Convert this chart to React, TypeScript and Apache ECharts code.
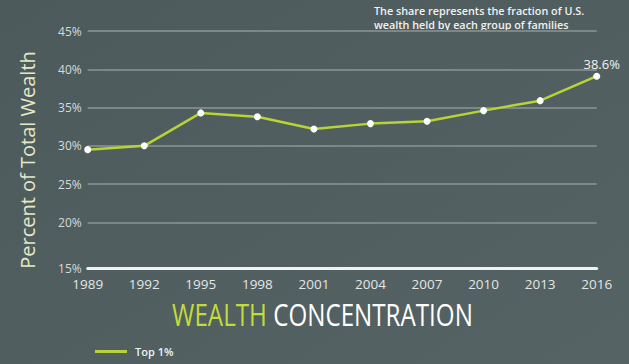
import React, { useEffect, useRef } from "react";
import * as echarts from "echarts";

const years = ["1989", "1992", "1995", "1998", "2001", "2004", "2007", "2010", "2013", "2016"];
const top1Share = [29.5, 30.0, 34.3, 33.8, 32.2, 32.9, 33.2, 34.6, 35.9, 39.1];
const lastPointLabel = "38.6%";
const yTickValues = [14, 20, 25, 30, 35, 40, 45];
const yTickLabels = ["15%", "20%", "25%", "30%", "35%", "40%", "45%"];
const seriesName = "Top 1%";
const yAxisTitle = "Percent of Total Wealth";
const subtitleLines = ["The share represents the fraction of U.S.", "wealth held by each group of families"];
const titleGreen = "WEALTH";
const titleWhite = "CONCENTRATION";

export default function App() {
  const ref = useRef<HTMLDivElement>(null);
  useEffect(() => {
    document.body.style.margin = "0";
    const chart = echarts.init(ref.current!, null, { renderer: "svg" });
    const green = "#b6d436";
    chart.setOption({
      animation: false,
      backgroundColor: {
        type: "linear",
        x: 0,
        y: 0,
        x2: 1,
        y2: 1,
        colorStops: [
          { offset: 0, color: "#4d5a5b" },
          { offset: 1, color: "#566364" },
        ],
      },
      grid: { left: 87.7, right: 32.3, top: 31, bottom: 95.7, outerBoundsMode: "none" },
      xAxis: {
        type: "category",
        data: years,
        boundaryGap: false,
        axisLine: { lineStyle: { color: "#eef2f2", width: 3 } },
        axisTick: { show: false },
        axisLabel: { color: "#e2e6e6", fontSize: 13.5, fontFamily: "Open Sans", margin: 9 },
        splitLine: { show: false },
      },
      yAxis: {
        type: "value",
        min: 14,
        max: 45,
        axisLine: { show: false },
        axisTick: { show: false, customValues: yTickValues },
        axisLabel: {
          customValues: yTickValues,
          color: "#d6dada",
          fontSize: 12,
          fontFamily: "Open Sans",
          margin: 6,
          formatter: (v: number) => yTickLabels[yTickValues.indexOf(v)] ?? "",
        },
        splitLine: { show: true, lineStyle: { color: "#7c8788", width: 2 } },
      },
      legend: {
        left: 90,
        top: 341,
        itemWidth: 32,
        itemHeight: 3,
        icon: "rect",
        data: [{ name: seriesName, icon: "rect", itemStyle: { color: green } }],
        textStyle: { color: "#f2f4f4", fontSize: 11, fontWeight: 600, fontFamily: "Open Sans", padding: [0, 0, 0, 3] },
      },
      series: [
        {
          name: seriesName,
          type: "line",
          data: top1Share.map((v, i) =>
            i === top1Share.length - 1
              ? {
                  value: v,
                  label: {
                    show: true,
                    position: "top",
                    distance: 2,
                    offset: [5, 0],
                    formatter: lastPointLabel,
                    color: "#f0f2f2",
                    fontSize: 13,
                    fontFamily: "Open Sans",
                  },
                }
              : v
          ),
          symbol: "circle",
          symbolSize: 7,
          itemStyle: { color: "#ffffff", borderWidth: 0 },
          lineStyle: { color: green, width: 2.5 },
          z: 3,
        },
      ],
      graphic: [
        {
          type: "text",
          x: 27,
          y: 160,
          rotation: Math.PI / 2,
          style: {
            text: yAxisTitle,
            fill: "#e4e8c6",
            fontSize: 20,
            fontFamily: "Open Sans",
            align: "center",
            verticalAlign: "middle",
          },
        },
        ...subtitleLines.map((line, i) => ({
          type: "text",
          x: 374,
          y: 10 + i * 14,
          style: {
            text: line,
            fill: "#f0f2f2",
            fontSize: 10.8,
            fontWeight: 600,
            fontFamily: "Open Sans",
            align: "left",
            verticalAlign: "middle",
          },
        })),
        {
          type: "text",
          x: 322.5,
          y: 314,
          scaleX: 0.78,
          style: {
            text: `{g|${titleGreen}} {w|${titleWhite}}`,
            fontSize: 31,
            fontFamily: "Open Sans",
            align: "center",
            verticalAlign: "middle",
            rich: {
              g: { fill: "#c2dc3a", fontSize: 31, fontFamily: "Open Sans" },
              w: { fill: "#ffffff", fontSize: 31, fontFamily: "Open Sans" },
            },
          },
        },
      ],
    });
    return () => chart.dispose();
  }, []);
  return <div ref={ref} style={{ position: "fixed", left: 0, top: 0, width: 629, height: 364 }} />;
}
